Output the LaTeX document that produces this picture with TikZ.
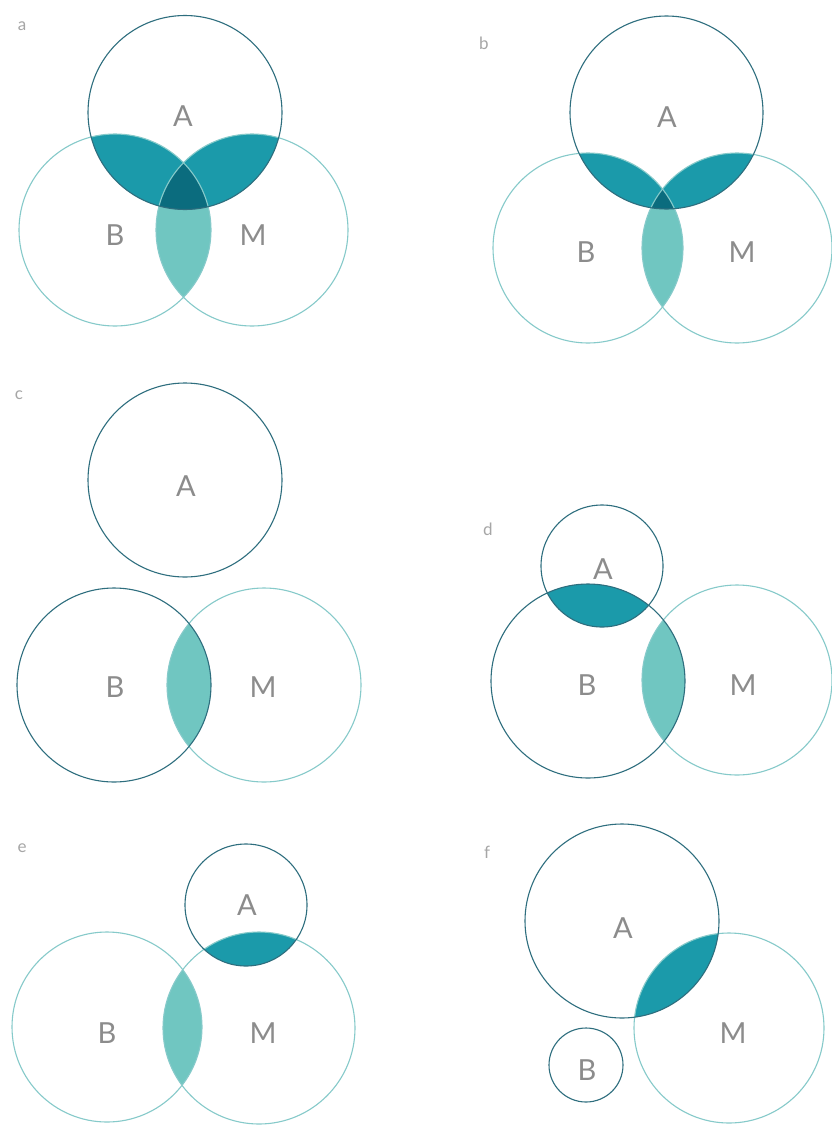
\documentclass[tikz,border=0pt]{standalone}
\usepackage{fontspec}
\setmainfont{Lato}
\definecolor{dk}{HTML}{2E6E7E}
\definecolor{lt}{HTML}{86CACA}
\definecolor{mid}{HTML}{1B9AAA}
\definecolor{deep}{HTML}{0B6C7E}
\definecolor{pale}{HTML}{70C6C1}
\definecolor{glowc}{HTML}{DDF5FA}
\pgfdeclareradialshading{glow}{\pgfpoint{0bp}{0bp}}{color(0bp)=(white); color(36bp)=(white); color(50bp)=(glowc)}
\tikzset{
  setlbl/.style={font=\fontsize{29}{29}\selectfont, text=black!45},
  panellbl/.style={font=\fontsize{17}{17}\selectfont, text=black!35},
  darkline/.style={draw=dk, line width=1.1pt},
  lightline/.style={draw=lt, line width=1.1pt},
}
\newcommand\glowcirc[2]{\shade[shading=glow] (#1) circle[radius=#2];}
\newcommand\lensfill[5]{\begin{scope}\clip (#1) circle[radius=#2]; \fill[#5] (#3) circle[radius=#4];\end{scope}}
\begin{document}
\begin{tikzpicture}[x=1pt,y=-1pt]
\fill[white] (0,0) rectangle (832,1127);
\useasboundingbox (0,0) rectangle (832,1127);

% ---------- panel a ----------
\coordinate (aA) at (185,112.5);
\coordinate (aB) at (115,230);
\coordinate (aM) at (252,230);
\glowcirc{aB}{96pt}\glowcirc{aM}{96pt}\glowcirc{aA}{97pt}
\lensfill{aA}{97pt}{aB}{96pt}{mid}
\lensfill{aA}{97pt}{aM}{96pt}{mid}
\lensfill{aB}{96pt}{aM}{96pt}{pale}
\begin{scope}\clip (aA) circle[radius=97pt]; \clip (aB) circle[radius=96pt]; \fill[deep] (aM) circle[radius=96pt];\end{scope}
\draw[lightline] (aB) circle[radius=96pt];
\draw[lightline] (aM) circle[radius=96pt];
\draw[darkline] (aA) circle[radius=97pt];
\node[panellbl] (la) at (22,26) {a};
\node[setlbl] (aAl) at (183,116) {A};
\node[setlbl] (aBl) at (115,235) {B};
\node[setlbl] (aMl) at (253,235) {M};

% ---------- panel b ----------
\coordinate (bA) at (666.5,112.5);
\coordinate (bB) at (588,248);
\coordinate (bM) at (737,248);
\glowcirc{bB}{95pt}\glowcirc{bM}{95pt}\glowcirc{bA}{96.5pt}
\lensfill{bA}{96.5pt}{bB}{95pt}{mid}
\lensfill{bA}{96.5pt}{bM}{95pt}{mid}
\lensfill{bB}{95pt}{bM}{95pt}{pale}
\begin{scope}\clip (bA) circle[radius=96.5pt]; \clip (bB) circle[radius=95pt]; \fill[deep] (bM) circle[radius=95pt];\end{scope}
\draw[lightline] (bB) circle[radius=95pt];
\draw[lightline] (bM) circle[radius=95pt];
\draw[darkline] (bA) circle[radius=96.5pt];
\node[panellbl] (lb) at (484,43) {b};
\node[setlbl] (bAl) at (667,117) {A};
\node[setlbl] (bBl) at (586,252) {B};
\node[setlbl] (bMl) at (742,252) {M};

% ---------- panel c ----------
\coordinate (cA) at (185,480);
\coordinate (cB) at (114,685);
\coordinate (cM) at (264,685);
\glowcirc{cA}{97pt}\glowcirc{cM}{97pt}\glowcirc{cB}{97pt}
\lensfill{cB}{97pt}{cM}{97pt}{pale}
\draw[lightline] (cM) circle[radius=97pt];
\draw[darkline] (cB) circle[radius=97pt];
\draw[darkline] (cA) circle[radius=97pt];
\node[panellbl] (lc) at (19,395) {c};
\node[setlbl] (cAl) at (186,486) {A};
\node[setlbl] (cBl) at (115,687) {B};
\node[setlbl] (cMl) at (263,687) {M};

% ---------- panel d ----------
\coordinate (dA) at (602,566);
\coordinate (dB) at (588,681);
\coordinate (dM) at (737,680);
\glowcirc{dM}{95pt}\glowcirc{dB}{97pt}\glowcirc{dA}{61pt}
\lensfill{dA}{61pt}{dB}{97pt}{mid}
\lensfill{dB}{97pt}{dM}{95pt}{pale}
\draw[lightline] (dM) circle[radius=95pt];
\draw[darkline] (dB) circle[radius=97pt];
\draw[darkline] (dA) circle[radius=61pt];
\node[panellbl] (ld) at (488,529) {d};
\node[setlbl] (dAl) at (603,569) {A};
\node[setlbl] (dBl) at (587,685) {B};
\node[setlbl] (dMl) at (743,685) {M};

% ---------- panel e ----------
\coordinate (eA) at (246,905);
\coordinate (eB) at (107,1027);
\coordinate (eM) at (259,1028);
\glowcirc{eB}{95pt}\glowcirc{eM}{96pt}\glowcirc{eA}{61pt}
\lensfill{eA}{61pt}{eM}{96pt}{mid}
\lensfill{eB}{95pt}{eM}{96pt}{pale}
\draw[lightline] (eB) circle[radius=95pt];
\draw[lightline] (eM) circle[radius=96pt];
\draw[darkline] (eA) circle[radius=61pt];
\node[panellbl] (le) at (22,848) {e};
\node[setlbl] (eAl) at (247,905) {A};
\node[setlbl] (eBl) at (107,1033) {B};
\node[setlbl] (eMl) at (263,1033) {M};

% ---------- panel f ----------
\coordinate (fA) at (622,921);
\coordinate (fM) at (729,1028);
\coordinate (fB) at (586,1065);
\glowcirc{fM}{95pt}\glowcirc{fA}{97pt}\glowcirc{fB}{37pt}
\lensfill{fA}{97pt}{fM}{95pt}{mid}
\draw[lightline] (fM) circle[radius=95pt];
\draw[darkline] (fA) circle[radius=97pt];
\draw[darkline] (fB) circle[radius=37pt];
\node[panellbl] (lf) at (487,852) {f};
\node[setlbl] (fAl) at (623,928) {A};
\node[setlbl] (fBl) at (587,1070) {B};
\node[setlbl] (fMl) at (733,1033) {M};
\end{tikzpicture}
\end{document}
